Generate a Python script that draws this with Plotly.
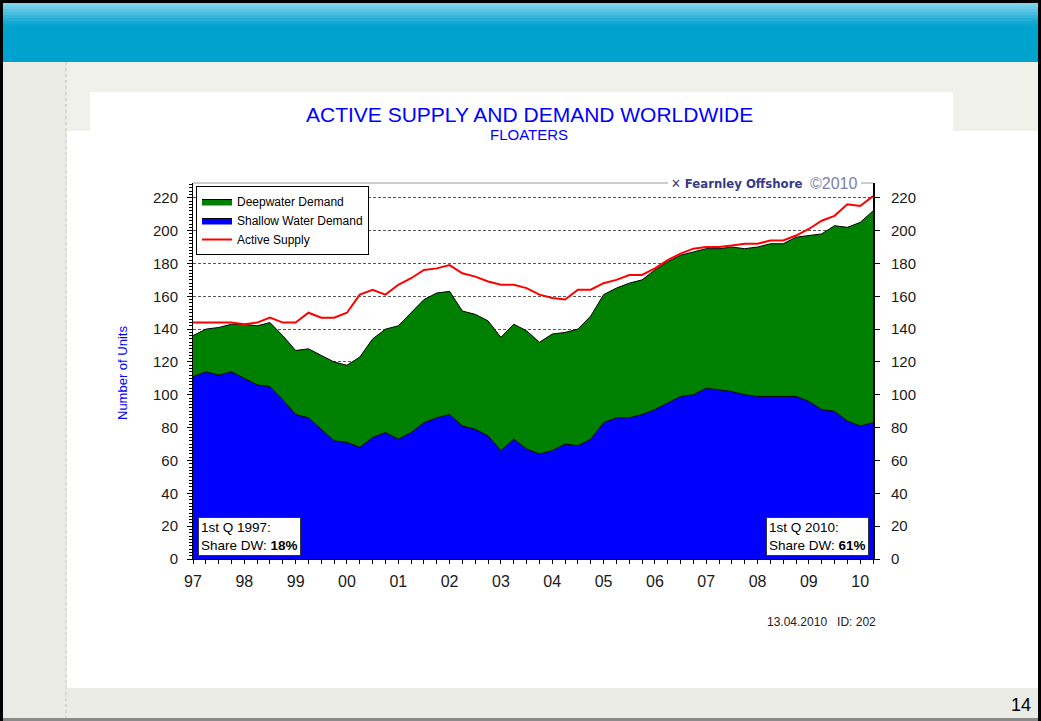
import plotly.graph_objects as go

W, H = 1041, 721

years = list(range(1997, 2011))
quarters = [f"{y}Q{q}" for y in years for q in (1, 2, 3, 4)][:54]
year_labels = ["97", "98", "99", "00", "01", "02", "03", "04", "05", "06", "07", "08", "09", "10"]

# total demand = top of the green area
total_demand = [136, 140, 141, 143, 143, 142, 144, 136, 127, 128, 124, 120,
                118, 123, 134, 140, 142, 150, 158, 162, 163, 151, 149, 145,
                135, 143, 139, 132, 137, 138, 140, 148, 161, 165, 168, 170,
                176, 181, 185, 187, 189, 189, 190, 189, 190, 192, 192, 196,
                197, 198, 203, 202, 205, 212]
shallow_demand = [111, 114, 112, 114, 110, 106, 105, 97, 88, 86, 79, 72,
                  71, 68, 74, 77, 73, 77, 83, 86, 88, 81, 79, 75,
                  66, 73, 67, 64, 66, 70, 69, 73, 83, 86, 86, 88,
                  91, 95, 99, 100, 104, 103, 102, 100, 99, 99, 99, 99,
                  96, 91, 90, 84, 81, 83]
active_supply = [144, 144, 144, 144, 143, 144, 147, 144, 144, 150, 147, 147,
                 150, 161, 164, 161, 167, 171, 176, 177, 179, 174, 172, 169,
                 167, 167, 165, 161, 159, 158, 164, 164, 168, 170, 173, 173,
                 177, 182, 186, 189, 190, 190, 191, 192, 192, 194, 194, 197,
                 201, 206, 209, 216, 215, 221]

x = [int(p[:4]) + (int(p[-1]) - 1) / 4 for p in quarters]

FONT = "Liberation Sans, Arial, sans-serif"


def px(v):
    return v / W


def py(v):
    return 1 - v / H


def rect(x0, y0, x1, y1, color, layer="below"):
    return dict(type="rect", xref="paper", yref="paper", x0=px(x0), x1=px(x1), y0=py(y1), y1=py(y0),
                fillcolor=color, line=dict(width=0), layer=layer)


def label(text, x0, y0, size, color="black", xanchor="center", **kw):
    return dict(text=text, x=px(x0), y=py(y0), xref="paper", yref="paper", showarrow=False,
                xanchor=xanchor, yanchor=kw.pop("yanchor", "middle"),
                font=dict(family=kw.pop("family", FONT), size=size, color=color), **kw)


fig = go.Figure()

# dummy trace so the right axis is drawn
fig.add_trace(go.Scatter(x=x, y=active_supply, yaxis="y2", mode="lines",
                         line=dict(width=0), opacity=0, showlegend=False, hoverinfo="skip"))

fig.add_trace(go.Scatter(x=x, y=shallow_demand, name="Shallow Water Demand", mode="lines",
                         fill="tozeroy", fillcolor="#0000FF", line=dict(color="black", width=1),
                         legendrank=2, legendgroup="b"))
fig.add_trace(go.Scatter(x=x, y=total_demand, name="Deepwater Demand", mode="lines",
                         fill="tonexty", fillcolor="#008000", line=dict(color="black", width=1),
                         legendrank=1, legendgroup="a"))
fig.add_trace(go.Scatter(x=x, y=active_supply, name="Active Supply", mode="lines",
                         line=dict(color="#FF0000", width=2), legendrank=3, legendgroup="c"))

shapes = []
# slide background pieces
shapes.append(rect(0, 62, 67, 721, "#ebebe6"))
shapes.append(rect(67, 688, 1041, 721, "#ececE7"))
shapes.append(rect(90, 92, 953, 132, "white"))
shapes.append(rect(67, 131, 1038, 688, "white"))
shapes.append(dict(type="line", xref="paper", yref="paper", x0=px(66), x1=px(66), y0=py(62), y1=py(721),
                   line=dict(color="#c4c4c4", width=1, dash="dot"), layer="below"))
shapes.append(rect(0, 0, 1041, 62, "#00a3cd"))
grad = ["#7fd2ec", "#6dcbe8", "#5bc4e4", "#48bde0", "#35b5dc", "#22aed7", "#12a8d2", "#06a4ce"]
for i, c in enumerate(grad):
    shapes.append(rect(0, 3 + i * 3, 1041, 6 + i * 3, c))
shapes.append(dict(type="rect", xref="paper", yref="paper", x0=px(1.5), x1=px(1039.5),
                   y0=py(719.5), y1=py(1.5), line=dict(color="black", width=3), layer="above"))
shapes.append(dict(type="line", xref="paper", yref="paper", x0=px(3), x1=px(1038), y0=py(719.5), y1=py(719.5),
                   line=dict(color="#8a8a8a", width=3), layer="above"))
# plot top border, broken by the logo
shapes.append(dict(type="line", xref="paper", yref="paper", x0=px(193), x1=px(668), y0=py(183), y1=py(183),
                   line=dict(color="#9a9a9a", width=1), layer="above"))
shapes.append(dict(type="line", xref="paper", yref="paper", x0=px(861), x1=px(873), y0=py(183), y1=py(183),
                   line=dict(color="#9a9a9a", width=1), layer="above"))

box = dict(xanchor="left", yanchor="bottom", align="left", bgcolor="white",
           bordercolor="#333333", borderwidth=1, borderpad=2)

annotations = [
    label("ACTIVE SUPPLY AND DEMAND WORLDWIDE", 529, 114, 21, "#0000FF"),
    label("FLOATERS", 529, 134, 15, "#0000FF"),
    label("Number of Units", 122, 373, 13, "#0000FF", textangle=-90),
    label("1st Q 1997:<br>Share DW: <b>18%</b>", 198, 556, 13.5, **box),
    label("1st Q 2010:<br>Share DW: <b>61%</b>", 869, 556, 13.5,
          **dict(box, xanchor="right")),
    label("13.04.2010\u00a0\u00a0\u00a0ID: 202", 821, 622, 12, "#222222"),
    label("14", 1021, 705, 18),
    label("<b>\u2715 Fearnley Offshore</b>", 804, 183, 13, "#353c85", xanchor="right",
          family="DejaVu Sans Condensed, Liberation Sans Narrow, sans-serif"),
    label("\u00a92010", 859, 183, 16, "#7b80aa", xanchor="right"),
]

fig.update_layout(
    width=W, height=H, autosize=False,
    margin=dict(l=0, r=0, t=0, b=0, pad=0),
    paper_bgcolor="#f1f1ec", plot_bgcolor="white",
    shapes=shapes, annotations=annotations,
    showlegend=True,
    legend=dict(x=px(196), y=py(186), xanchor="left", yanchor="top",
                bgcolor="white", bordercolor="black", borderwidth=1,
                font=dict(family=FONT, size=12, color="black"), tracegroupgap=3,
                traceorder="normal"),
    xaxis=dict(domain=[px(193), px(873)], range=[1997, 2010.25], autorange=False,
               tickmode="array", tickvals=years, ticktext=year_labels,
               ticks="outside", ticklen=4, tickcolor="black",
               minor=dict(tickmode="linear", tick0=1997, dtick=0.25, ticks="outside",
                          ticklen=4, tickcolor="black", showgrid=False),
               showline=True, linecolor="black", linewidth=1, showgrid=False, zeroline=False,
               tickfont=dict(family=FONT, size=16, color="#1a1a1a"), automargin=False,
               ticklabelstandoff=4),
    yaxis=dict(domain=[py(559), py(183)], range=[0, 229], autorange=False,
               tickmode="linear", tick0=0, dtick=20,
               ticks="outside", ticklen=5, tickcolor="black",
               minor=dict(dtick=2, ticks="outside", ticklen=3, tickcolor="black", showgrid=False),
               showline=True, linecolor="black", linewidth=1,
               showgrid=True, gridcolor="#5a5a5a", gridwidth=1, griddash="3px,2px",
               zeroline=False, tickfont=dict(family=FONT, size=15, color="#1a1a1a"),
               automargin=False, ticklabelstandoff=6),
    yaxis2=dict(domain=[py(559), py(183)], range=[0, 229], autorange=False, overlaying="y",
                side="right", anchor="x", tickmode="linear", tick0=0, dtick=20,
                ticks="outside", ticklen=5, tickcolor="black",
                showline=True, linecolor="black", linewidth=2, showgrid=False, zeroline=False,
                tickfont=dict(family=FONT, size=15, color="#1a1a1a"), automargin=False,
                ticklabelstandoff=8),
)

fig.write_html("out.html", config={"displayModeBar": False},
               post_script="document.body.style.margin='0';")
